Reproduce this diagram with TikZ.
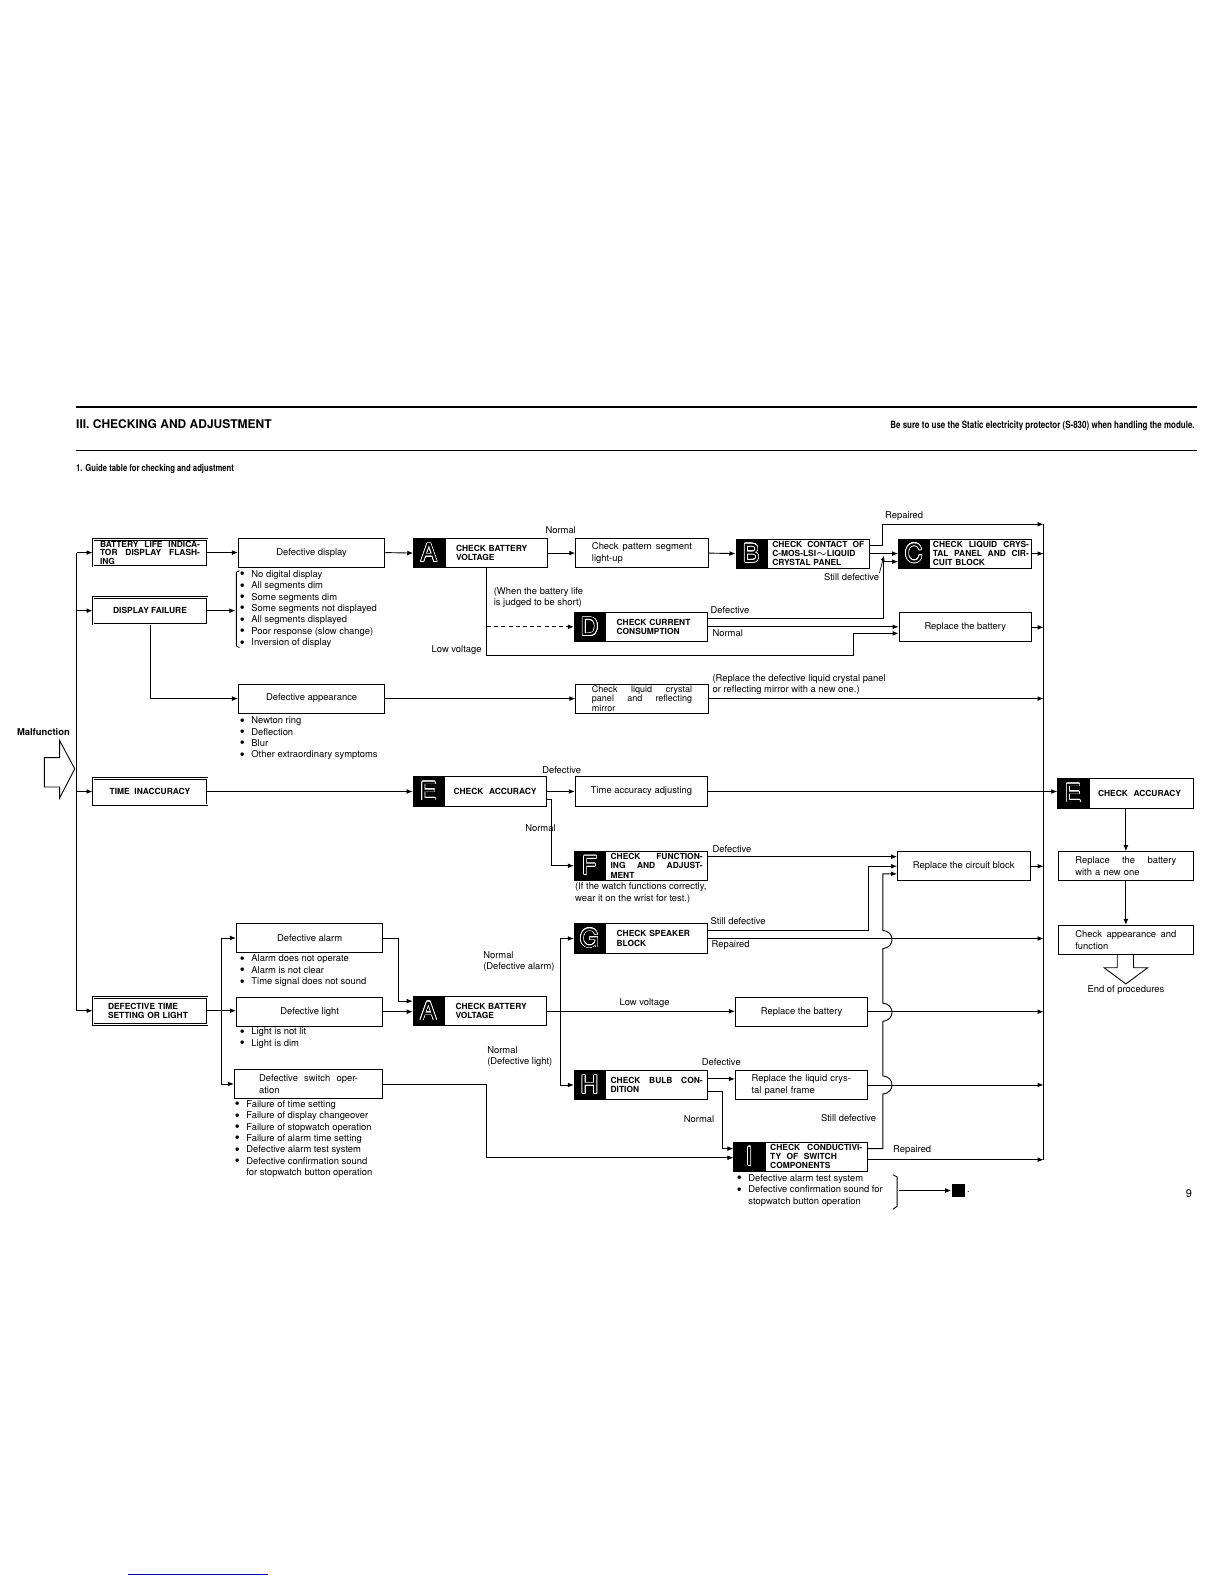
\documentclass[tikz,border=0pt]{standalone}
\usepackage{fontspec}
\setmainfont{TeX Gyre Heros}
\usepackage{contour}
\contourlength{0.3pt}
\contournumber{24}
\usetikzlibrary{positioning,arrows.meta,calc}

\newcommand\smtxt{\fontsize{4.7}{5.7}\selectfont}
\newcommand\boxtxt{\fontsize{4.2}{4.6}\selectfont\bfseries}
\newcommand\tagtxt{\fontsize{12.5}{12.5}\selectfont}
\newcommand\itm{\makebox[5.8pt][l]{\raisebox{-0.7pt}{\fontsize{7}{5.7}\selectfont\textbullet}}}
\newcommand\noitm{\makebox[5.8pt][l]{}}
\newcommand\lcd[1]{\contour{white}{#1}}

\begin{document}
\begin{tikzpicture}[x=0.505pt, y=-0.505pt,
  box/.style={draw, line width=0.45pt, minimum width=66.2pt, minimum height=14.6pt,
              inner sep=0.5pt, align=center, font=\smtxt},
  wbox/.style={box, minimum width=73.2pt},
  lbox/.style={draw, double, double distance=0.5pt, line width=0.45pt, minimum width=57pt,
               minimum height=13.4pt, inner sep=0.3pt, align=center, font=\boxtxt},
  chk/.style={draw, line width=0.45pt, minimum width=51pt, minimum height=14.6pt,
              inner sep=0.3pt, align=left, text width=#1, font=\boxtxt},
  chk/.default=46pt,
  tag/.style={draw, fill=black, line width=0.45pt, minimum width=15.2pt, minimum height=14.6pt,
              inner sep=0pt, text=black, font=\tagtxt},
  lst/.style={anchor=west, inner sep=0pt, align=left, font=\smtxt},
  lbl/.style={inner sep=0pt, align=left, font=\smtxt},
  arr/.style={-{Latex[length=3pt,width=2.4pt]}, line width=0.45pt},
  ln/.style={line width=0.45pt},
]
\useasboundingbox (0,0) rectangle (1212,1568);

% page head
\draw[line width=0.8pt] (75,403) -- (1185,403);
\draw[line width=0.8pt] (75,446) -- (1185,446);
\node[anchor=west, inner sep=0pt, font=\fontsize{6}{7}\selectfont\bfseries] (ttl) at (75,420) {III. CHECKING AND ADJUSTMENT};
\node[anchor=east, inner sep=0pt, font=\fontsize{5}{6}\selectfont\bfseries] (warn) at (1183,422)
  {\scalebox{0.8}[1]{Be sure to use the Static electricity protector (S-830) when handling the module.}};
\node[anchor=west, inner sep=0pt, font=\fontsize{4.8}{6}\selectfont\bfseries] (sub) at (75,464)
  {\scalebox{0.8}[1]{1. Guide table for checking and adjustment}};

% malfunction entry
\node[lbl, font=\smtxt\bfseries] (mal) at (43,725) {Malfunction};
\draw[ln] (44,750) -- (59,750) -- (59,733) -- (74,761) -- (59,790) -- (59,779) -- (44,779) -- cycle;
\coordinate (mtop) at (76,547);
\coordinate (mbot) at (76,1000.5);
\draw[ln] (mtop) -- (mbot);

% left column
\node[lbox, text width=50pt, align=left, inner ysep=0.9pt, font=\fontsize{4.2}{4.25}\selectfont\bfseries] (bli) at (148.5,547) {BATTERY\hfill LIFE\hfill INDICA-\\TOR\hfill DISPLAY\hfill FLASH-\\ING};
\node[lbox] (dfail) at (148.5,604.5) {DISPLAY FAILURE};
\node[lbox] (tinac) at (148.5,783.5) {TIME\ \ INACCURACY};
\node[lbox, text width=42pt, align=left] (dtime) at (148.5,1000.5) {DEFECTIVE TIME\\SETTING OR LIGHT};

\draw[arr] (mtop) -- (bli.west);
\draw[arr] (mtop |- dfail.west) -- (dfail.west);
\draw[arr] (mtop |- tinac.west) -- (tinac.west);
\draw[arr] (mbot) -- (dtime.west);

% symptoms
\node[wbox] (ddisp) at (308.5,547) {Defective display};
\node[lst] (dlst) at (237,603) {\itm No digital display\\\itm All segments dim\\\itm Some segments dim\\\itm Some segments not displayed\\\itm All segments displayed\\\itm Poor response (slow change)\\\itm Inversion of display};
\draw[ln] (237,565) -- (234,566.5) -- (234,639.5) -- (237,641);
\coordinate (dbr) at (233,604.5);
\node[wbox] (dapp) at (308.5,691.5) {Defective appearance};
\node[lst] (alst) at (237,731) {\itm Newton ring\\\itm Deflection\\\itm Blur\\\itm Other extraordinary symptoms};

\draw[arr] (bli.east) -- (ddisp.west);
\draw[arr] (dfail.east) -- (dbr);
\draw[arr] (dfail.south) |- (dapp.west);

% battery voltage A
\node[chk=40pt] (chkA1) at (491,547.5) {CHECK BATTERY\\VOLTAGE};
\node[tag, left=0pt of chkA1] (tagA1) {\lcd{A}};
\node[box, text width=50pt, align=left] (cpat) at (635.5,547.5) {Check\hfill pattern\hfill segment\\light-up};
\node[chk] (chkB) at (810,548) {CHECK\hfill CONTACT\hfill OF\\C-MOS-LSI$\sim$LIQUID\\CRYSTAL PANEL};
\node[tag, left=0pt of chkB] (tagB) {\lcd{B}};
\node[chk=48pt] (chkC) at (971,548) {CHECK\hfill LIQUID\hfill CRYS-\\TAL\hfill PANEL\hfill AND\hfill CIR-\\CUIT BLOCK};
\node[tag, left=0pt of chkC] (tagC) {\lcd{C}};
\node[chk=40pt] (chkD) at (650,620.5) {CHECK CURRENT\\CONSUMPTION};
\node[tag, left=0pt of chkD] (tagD) {\lcd{D}};
\node[box] (repB1) at (955.5,621) {Replace the battery};
\coordinate (trT) at (1033,519);
\coordinate (trB) at (1033,1148);
\draw[ln] (trT) -- (trB);

\draw[arr] (ddisp.east) -- (tagA1.west);
\draw[arr] (chkA1.east) -- (cpat.west);
\node[lbl] (nA1) at (555,525) {Normal};
\draw[arr] (cpat.east) -- (tagB.west);
\draw[arr] (chkB.east) ++(0,-8) -| (874,519) -- (trT);
\node[lbl] (rpB) at (895,511) {Repaired};
\draw[arr] (chkB.east) -- (tagC.west);
\node[lbl] (sdB) at (843,571) {Still defective};
\draw[-{Latex[length=2.5pt,width=2pt]}, line width=0.35pt] (sdB.north east) -- (875,550);
\draw[arr] (chkD.east) ++(0,-8.5) -| (875,556) -- ($(tagC.west)+(0,8)$);
\node[lbl, anchor=west] (dfD) at (703,604) {Defective};
\draw[arr] (chkD.east) -- (repB1.west |- chkD.east);
\node[lbl, anchor=west] (nmD) at (705,627) {Normal};
\coordinate (lvA) at (482,649);
\draw[arr] (chkA1.south -| lvA) -- (lvA) -| (845,627) -- ($(repB1.west)+(0,6)$);
\node[lbl] (lvl1) at (452,644) {Low voltage};
\draw[arr, dash pattern=on 2pt off 1.6pt] (lvA |- tagD.west) -- (tagD.west);
\node[lbl] (wbl) at (533,591.5) {(When the battery life\\is judged to be short)};
\draw[arr] (chkC.east) -- (trT |- chkC.east);
\draw[arr] (repB1.east) -- (trT |- repB1.east);

% appearance
\node[box, text width=50pt, align=left, font=\fontsize{4.5}{4.6}\selectfont] (clc) at (635.5,691.5) {Check\hfill liquid\hfill crystal\\panel\hfill and\hfill reflecting\\mirror};
\draw[arr] (dapp.east) -- (clc.west);
\draw[arr] (clc.east) -- (trT |- clc.east);
\node[lbl, anchor=west] (rnote) at (705,677.5) {(Replace the defective liquid crystal panel\\or reflecting mirror with a new one.)};

% accuracy E
\node[chk=42pt] (chkE1) at (490.5,783.5) {CHECK\ \ ACCURACY};
\node[tag, left=0pt of chkE1] (tagE1) {\lcd{E}};
\node[box] (tadj) at (635,783.5) {Time accuracy adjusting};
\node[chk] (chkF) at (650,857) {CHECK\hfill FUNCTION-\\ING\hfill AND\hfill ADJUST-\\MENT};
\node[tag, left=0pt of chkF] (tagF) {\lcd{F}};
\node[lbl, anchor=west] (fnote) at (569,884) {(If the watch functions correctly,\\wear it on the wrist for test.)};
\node[box] (rcb) at (954,857.5) {Replace the circuit block};

\draw[arr] (tinac.east) -- (tagE1.west);
\draw[arr] (chkE1.east) -- (tadj.west);
\node[lbl] (dfE) at (556,762) {Defective};
\coordinate (eN) at (546,791);
\draw[arr] (chkE1.east |- eN) -- (eN) |- (tagF.west);
\node[lbl] (nmE) at (535,820) {Normal};
\draw[arr] (chkF.east) ++(0,-9) coordinate (fD) -- (fD -| rcb.west);
\node[lbl, anchor=west] (dfF) at (705,841) {Defective};
\draw[arr] (rcb.east) -- (trT |- rcb.east);

% time setting / light
\node[wbox] (dalarm) at (306.5,928.5) {Defective alarm};
\node[lst] (allst) at (237,961) {\itm Alarm does not operate\\\itm Alarm is not clear\\\itm Time signal does not sound};
\node[wbox] (dlight) at (306.5,1001.5) {Defective light};
\node[lst] (lilst) at (237,1027.5) {\itm Light is not lit\\\itm Light is dim};
\node[wbox, minimum width=74.2pt, text width=49.5pt, align=left] (dswitch) at (305.5,1073) {Defective\hfill switch\hfill oper-\\ation};
\node[lst] (swlst) at (232,1127.5) {\itm Failure of time setting\\\itm Failure of display changeover\\\itm Failure of stopwatch operation\\\itm Failure of alarm time setting\\\itm Defective alarm test system\\\itm Defective confirmation sound\\\noitm for stopwatch button operation};
\coordinate (dJ) at (219,1000.5);
\draw[arr] (dtime.east) -- (dlight.west |- dtime.east);
\draw[arr] (dJ) |- (dalarm.west);
\draw[arr] (dJ) |- (dswitch.west);

\node[chk=40pt] (chkA2) at (490.5,1001) {CHECK BATTERY\\VOLTAGE};
\node[tag, left=0pt of chkA2] (tagA2) {\lcd{A}};
\node[chk=40pt] (chkG) at (650,929) {CHECK SPEAKER\\BLOCK};
\node[tag, left=0pt of chkG] (tagG) {\lcd{G}};
\node[box] (repB2) at (793.5,1001.5) {Replace the battery};
\node[chk] (chkH) at (650,1074) {CHECK\hfill BULB\hfill CON-\\DITION};
\node[tag, left=0pt of chkH] (tagH) {\lcd{H}};
\node[box, text width=50pt, align=left] (rlcp) at (793.5,1074) {Replace the liquid crys-\\tal panel frame};
\node[chk] (chkI) at (808,1145) {CHECK\hfill CONDUCTIVI-\\TY\ \ OF\ \ SWITCH\\COMPONENTS};
\node[tag, left=0pt of chkI] (tagI) {\lcd{I}};

\draw[arr] (dalarm.east) -| (394,991) -- ($(tagA2.west)+(0,-10)$);
\draw[arr] (dlight.east) -- (tagA2.west |- dlight.east);
\draw[arr] (chkA2.east) -- (repB2.west |- chkA2.east);
\node[lbl] (lvl2) at (638,993) {Low voltage};
\coordinate (aJ) at (555,1001);
\draw[arr] (aJ) |- (tagG.west);
\draw[arr] (aJ) |- (tagH.west);
\node[lbl, anchor=west] (nmG) at (478,952) {Normal\\(Defective alarm)};
\node[lbl, anchor=west] (nmH) at (482,1046) {Normal\\(Defective light)};
\draw[arr] (chkG.east) ++(0,-8) -| (860,857.5) -- (rcb.west);
\node[lbl, anchor=west] (sdG) at (703,912) {Still defective};
\draw[arr] (chkG.east) -- (trT |- chkG.east);
\node[lbl, anchor=west] (rpG) at (704,936) {Repaired};
\draw[arr] (repB2.east) -- (trT |- repB2.east);
\draw[arr] (chkH.east) ++(0,-6) coordinate (hD) -- (hD -| rlcp.west);
\node[lbl] (dfH) at (714,1051) {Defective};
\draw[arr] (chkH.east) ++(0,6) -| (715,1137) -- ($(tagI.west)+(0,-8)$);
\node[lbl] (nmI) at (692,1108) {Normal};
\draw[arr] (rlcp.east) -- (trT |- rlcp.east);
\draw[arr] (dswitch.east) -| (482,1146) -- ($(tagI.west)+(0,1)$);
\draw[arr] (chkI.east) ++(0,3) coordinate (iR) -- (iR -| trT);
\node[lbl] (rpI) at (903,1138) {Repaired};
\draw[arr] (chkI.east) ++(0,-8) -- (874,1137) -- (874,1083)
  .. controls (886,1082) and (886,1066) .. (874,1065) -- (874,1011)
  .. controls (886,1010) and (886,994) .. (874,993) -- (874,939)
  .. controls (886,938) and (886,922) .. (874,921) -- (874,865) -- ($(rcb.west)+(0,7.5)$);
\node[lbl] (sdI) at (840,1107) {Still defective};
\node[lst] (ilst) at (729,1178.5) {\itm Defective alarm test system\\\itm Defective confirmation sound for\\\noitm stopwatch button operation};
\draw[ln] (884,1163) -- (888,1165) -- (888,1194) -- (884,1197);
\coordinate (brk) at (890,1178.5);
\node[fill=black, minimum size=6.6pt, inner sep=0pt] (endsq) at (948.5,1178.5) {};
\draw[arr] (brk) -- (endsq.west);
\node[lbl, anchor=west] (dot) at (957,1180) {.};

% final checks
\node[chk=43pt, minimum width=52pt] (chkE2) at (1129.5,785.5) {CHECK\ \ ACCURACY};
\node[tag, left=0pt of chkE2] (tagE2) {\lcd{E}};
\node[box, minimum width=67.2pt, text width=50.5pt, align=left] (rbn) at (1114.5,857.5) {Replace\hfill the\hfill battery\\with a new one};
\node[box, minimum width=67.2pt, text width=50.5pt, align=left] (capf) at (1114.5,930.5) {Check\hfill appearance\hfill and\\function};
\draw[arr] (tadj.east) -- (tagE2.west |- tadj.east);
\draw[arr] (chkE2.south -| rbn.north) -- (rbn.north);
\draw[arr] (rbn.south) -- (capf.north);
\draw[ln] (1106,945) -- (1106,958) -- (1093,958) -- (1114.5,974) -- (1136,958) -- (1122,958) -- (1122,945);
\node[lbl] (eop) at (1114.5,980) {End of procedures};

\node[inner sep=0pt, font=\fontsize{5.5}{6}\selectfont] (pg) at (1177,1182) {9};
\draw[blue!70!black, line width=0.4pt] (127,1558) -- (265,1558);
\end{tikzpicture}
\end{document}
